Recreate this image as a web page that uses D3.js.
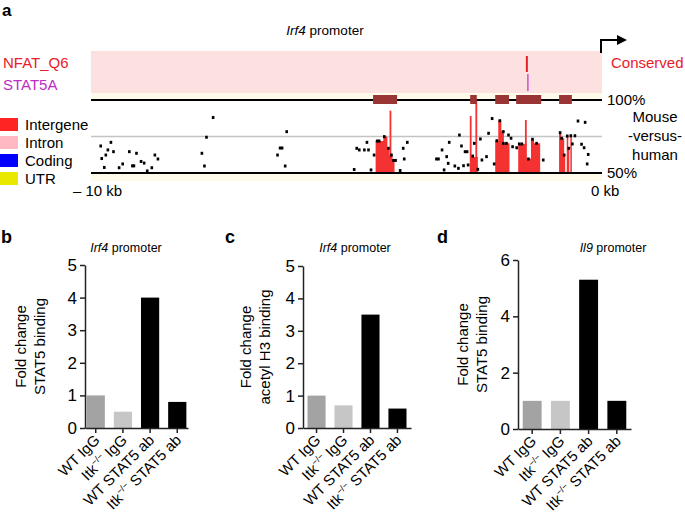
<!DOCTYPE html>
<html><head><meta charset="utf-8">
<script src="https://cdn.jsdelivr.net/npm/d3@7"></script>
<style>
body{margin:0;background:#fff}
svg{display:block}
text{font-family:"Liberation Sans",Arial,Helvetica,sans-serif;fill:#000}
</style>
</head><body>
<svg id="fig" width="685" height="520"></svg>
<script>
// ---------- Panel a data (kb relative to TSS, % identity mouse vs human) ----------
const exons = [[-4.48,-4.01],[-2.58,-2.45],[-2.09,-1.82],[-1.68,-1.19],[-0.84,-0.59]];
const nfatSites = [-1.47];
const stat5Sites = [-1.45];
const conservedRegions = [
  [[-4.43,72],[-4.28,75],[-4.20,67],[-4.16,62.3],[-4.10,59],[-4.06,59]],
  [[-2.58,61],[-2.50,61],[-2.43,61]],
  [[-2.09,72],[-2.03,86],[-1.97,79],[-1.92,70.3],[-1.81,70.3]],
  [[-1.64,70],[-1.48,60],[-1.39,73],[-1.33,70.3],[-1.21,70.3]],
  [[-0.84,77.6],[-0.80,73.8],[-0.74,62.3],[-0.72,62.3]],
  [[-0.69,75.5],[-0.66,66.9],[-0.64,66.9]],
  [[-0.62,75.5],[-0.59,75.5]]
];
const conservedPeaks = [[-4.14,92.7],[-2.57,89],[-2.46,100],[-1.49,86.3]];
const identityPoints = [
  [-9.81,68.5],[-9.61,71.0],[-9.67,65.8],[-9.56,64.6],[-9.71,62.3],[-9.79,59.9],[-9.74,53.8],
  [-9.45,53.6],[-9.38,56.2],[-9.25,64.6],[-9.19,54.9],[-9.16,54.9],[-9.11,63.5],[-9.02,57.9],
  [-8.96,56.8],[-8.90,51.4],[-8.81,53.6],[-8.75,62.3],[-8.69,59.6],
  [-7.83,63.5],[-7.78,54.8],[-7.74,74.5],[-7.61,88.0],
  [-6.30,67.1],[-6.26,67.1],[-6.35,62.3],[-6.20,54.8],[-6.17,78.3],
  [-4.85,52.4],[-4.80,66.9],[-4.75,65.8],[-4.60,71.0],[-4.65,65.8],[-4.57,65.8],[-4.52,52.1],[-4.46,62.3],
  [-4.40,71.9],[-4.36,71.9],[-4.26,74.9],[-4.18,66.9],[-4.12,62.3],[-4.04,58.6],[-4.08,58.6],
  [-3.95,51.7],[-3.89,66.9],[-3.87,59.6],[-3.81,71.0],
  [-3.24,59.6],[-3.20,59.6],[-3.13,65.8],[-3.09,52.1],[-3.04,61.2],[-2.99,71.0],[-3.01,56.6],
  [-2.88,54.8],[-2.81,53.2],[-2.79,76.0],[-2.75,68.5],[-2.71,55.0],[-2.68,64.6],[-2.64,64.6],[-2.62,55.5],
  [-2.53,61.6],[-2.50,70.3],[-2.43,52.5],
  [-2.38,73.3],[-2.35,58.9],[-2.26,61.2],[-2.22,77.2],[-2.15,87.3],[-2.11,56.2],
  [-2.06,72.1],[-2.00,85.8],[-1.93,78.3],[-1.93,70.3],[-1.87,70.3],[-1.83,76.0],[-1.78,73.8],[-1.75,68.0],
  [-1.67,67.3],[-1.62,69.9],[-1.57,69.9],[-1.44,59.6],[-1.36,73.1],[-1.28,70.3],
  [-1.15,58.9],
  [-0.82,77.6],[-0.79,73.8],[-0.74,62.3],[-0.68,75.3],[-0.65,66.9],[-0.61,75.5],[-0.58,69.9],[-0.53,75.5],
  [-0.47,85.6],[-0.40,69.7],[-0.35,67.3],[-0.33,84.7],[-0.29,56.2],[-0.27,62.7]
];
const legendItems = ["Intergene","Intron","Coding","UTR"];
const legendColors = ["#ff2424","#ffb9c2","#0000ff","#e8e800"];

// ---------- Bar panels data ----------
const groups = ["WT IgG","Itk−/− IgG","WT STAT5 ab","Itk−/− STAT5 ab"];
const barColors = ["#a3a3a3","#c6c6c6","#000000","#000000"];
const stat5Irf4 = [1.0, 0.5, 4.0, 0.8];
const acH3Irf4 = [1.0, 0.7, 3.5, 0.6];
const stat5Il9 = [1.0, 1.0, 5.3, 1.0];
const ticksB = [0,1,2,3,4,5];
const ticksC = [0,1,2,3,4,5];
const ticksD = [0,2,4,6];

const svg = d3.select("#fig");

// ================= Panel a =================
const xa = d3.scaleLinear().domain([-10,0]).range([91,602]);
const ya = d3.scaleLinear().domain([50,100]).range([173,100]);

svg.append("text").attr("x",2).attr("y",16).style("font-weight","bold").style("font-size","17px").text("a");
const ta = svg.append("text").attr("x",325).attr("y",35).attr("text-anchor","middle").style("font-size","13.5px");
ta.append("tspan").style("font-style","italic").text("Irf4");
ta.append("tspan").text(" promoter");

// TF site band
svg.append("rect").attr("x",xa(-10)).attr("y",51).attr("width",xa(0)-xa(-10)).attr("height",42).attr("fill","#fde1e1");
svg.append("text").attr("x",3).attr("y",68).style("font-size","15px").style("fill","#e8202a").text("NFAT_Q6");
svg.append("text").attr("x",3).attr("y",90).style("font-size","15px").style("fill","#c02cc8").text("STAT5A");
svg.selectAll(".nfat").data(nfatSites).join("line").attr("x1",d=>xa(d)).attr("x2",d=>xa(d))
  .attr("y1",56).attr("y2",72).attr("stroke","#e8202a").attr("stroke-width",2);
svg.selectAll(".stat5").data(stat5Sites).join("line").attr("x1",d=>xa(d)).attr("x2",d=>xa(d))
  .attr("y1",74).attr("y2",91).attr("stroke","#c02cc8").attr("stroke-width",1.2);

// TSS arrow
svg.append("path").attr("d",`M${xa(0)-1},53 V40 H619`).attr("fill","none").attr("stroke","#000").attr("stroke-width",2);
svg.append("path").attr("d",`M627,40 L617,35 L617,45 Z`).attr("fill","#000");
svg.append("text").attr("x",611).attr("y",68).style("font-size","15px").style("fill","#e8202a").text("Conserved");

// conservation plot background
svg.append("rect").attr("x",xa(-10)).attr("y",93).attr("width",xa(0)-xa(-10)).attr("height",88).attr("fill","#fffbea");
svg.append("rect").attr("x",xa(-10)).attr("y",ya(100)).attr("width",xa(0)-xa(-10)).attr("height",ya(50)-ya(100)).attr("fill","#fff");
svg.append("line").attr("x1",xa(-10)).attr("x2",xa(0)).attr("y1",ya(75)).attr("y2",ya(75)).attr("stroke","#c4c4c4").attr("stroke-width",1.5);

const area = d3.area().curve(d3.curveStepAfter).x(d=>xa(d[0])).y0(ya(50)).y1(d=>ya(d[1]));
svg.selectAll(".cns").data(conservedRegions).join("path").attr("d",area).attr("fill","#f43232");
svg.selectAll(".pk").data(conservedPeaks).join("line")
  .attr("x1",d=>xa(d[0])).attr("x2",d=>xa(d[0])).attr("y1",ya(50)).attr("y2",d=>ya(d[1]))
  .attr("stroke","#f43232").attr("stroke-width",1.8);
svg.selectAll(".pt").data(identityPoints).join("rect")
  .attr("x",d=>xa(d[0])-1.3).attr("y",d=>ya(d[1])-1.5).attr("width",2.6).attr("height",3).attr("fill","#000");

svg.append("line").attr("x1",xa(-10)).attr("x2",xa(0)).attr("y1",ya(100)).attr("y2",ya(100)).attr("stroke","#000").attr("stroke-width",2);
svg.append("line").attr("x1",xa(-10)).attr("x2",xa(0)).attr("y1",ya(50)).attr("y2",ya(50)).attr("stroke","#000").attr("stroke-width",2);
svg.selectAll(".ex").data(exons).join("rect")
  .attr("x",d=>xa(d[0])).attr("y",ya(100)-5).attr("width",d=>xa(d[1])-xa(d[0])).attr("height",9).attr("fill","#993535");

svg.append("text").attr("x",607).attr("y",105).style("font-size","15px").text("100%");
svg.append("text").attr("x",607).attr("y",178).style("font-size","15px").text("50%");
["Mouse","-versus-","human"].forEach((t,i)=>{
  svg.append("text").attr("x",655).attr("y",122+i*19).attr("text-anchor","middle").style("font-size","15px").text(t);
});
svg.append("text").attr("x",73).attr("y",196).style("font-size","15px").text("– 10 kb");
svg.append("text").attr("x",591).attr("y",196).style("font-size","15px").text("0 kb");

// legend
legendItems.forEach((t,i)=>{
  svg.append("rect").attr("x",0).attr("y",118+i*18).attr("width",18).attr("height",13).attr("fill",legendColors[i]);
  svg.append("text").attr("x",25).attr("y",130+i*18).style("font-size","15px").text(t);
});

// ================= Bar panels =================
function barPanel(cfg){
  const g = svg.append("g");
  const xs = d3.scaleBand().domain(groups).range([cfg.x0,cfg.x1]).paddingInner(0.33).paddingOuter(cfg.po);
  const ys = d3.scaleLinear().domain([0,cfg.max]).range([cfg.yb,cfg.yt]);
  g.append("text").attr("x",cfg.lx).attr("y",243).style("font-weight","bold").style("font-size","18px").text(cfg.letter);
  const t = g.append("text").attr("x",cfg.tx).attr("y",252).attr("text-anchor","middle").style("font-size","12.5px");
  t.append("tspan").style("font-style","italic").text(cfg.gene);
  t.append("tspan").text(" promoter");

  g.selectAll(".bar").data(cfg.values).join("rect")
    .attr("x",(d,i)=>xs(groups[i])).attr("width",xs.bandwidth())
    .attr("y",d=>ys(d)).attr("height",d=>ys(0)-ys(d)).attr("fill",(d,i)=>barColors[i]);

  const yAx = g.append("g").attr("transform",`translate(${cfg.x0},0)`)
    .call(d3.axisLeft(ys).tickValues(cfg.ticks).tickSize(5).tickSizeOuter(0).tickPadding(3).tickFormat(d3.format("d")));
  yAx.select(".domain").attr("stroke","#222").attr("stroke-width",1.5);
  yAx.selectAll(".tick line").attr("stroke","#222").attr("stroke-width",1.5);
  yAx.selectAll(".tick text").style("font-size","17px").style("font-family","Liberation Sans, Arial, sans-serif").attr("fill","#000");

  const xAx = g.append("g").attr("transform",`translate(0,${cfg.yb})`)
    .call(d3.axisBottom(xs).tickSize(5).tickSizeOuter(0).tickFormat(""));
  xAx.select(".domain").attr("stroke","#222").attr("stroke-width",1.5);
  xAx.selectAll(".tick line").attr("stroke","#222").attr("stroke-width",1.5);

  groups.forEach((lab,i)=>{
    const cx = xs(lab)+xs.bandwidth()/2;
    const tx = g.append("text").attr("transform",`translate(${cx+5},${cfg.yb+13}) rotate(-45)`)
      .attr("text-anchor","end").style("font-size","15px");
    const parts = lab.split("−/−");
    if(parts.length===2){
      tx.append("tspan").text(parts[0]);
      tx.append("tspan").attr("dy",-6).style("font-size","9px").text("−/−");
      tx.append("tspan").attr("dy",6).text(parts[1]);
    } else tx.text(lab);
  });

  const cy = (cfg.yb+cfg.yt)/2;
  cfg.ylab.forEach((l,i)=>{
    g.append("text").attr("transform",`translate(${cfg.ylx+i*19},${cy}) rotate(-90)`)
      .attr("text-anchor","middle").style("font-size","15px").text(l);
  });
}

barPanel({letter:"b",lx:1,gene:"Irf4",tx:126,x0:85,x1:188,po:0.06,yt:265,yb:428,max:5,ticks:ticksB,values:stat5Irf4,
  ylab:["Fold change","STAT5 binding"],ylx:26});
barPanel({letter:"c",lx:225,gene:"Irf4",tx:355,x0:303,x1:411,po:0.167,yt:266,yb:428,max:5,ticks:ticksC,values:acH3Irf4,
  ylab:["Fold change","acetyl H3 binding"],ylx:251});
barPanel({letter:"d",lx:437,gene:"Il9",tx:613,x0:518,x1:631,po:0.167,yt:260,yb:429,max:6,ticks:ticksD,values:stat5Il9,
  ylab:["Fold change","STAT5 binding"],ylx:468});
</script>
</body></html>
